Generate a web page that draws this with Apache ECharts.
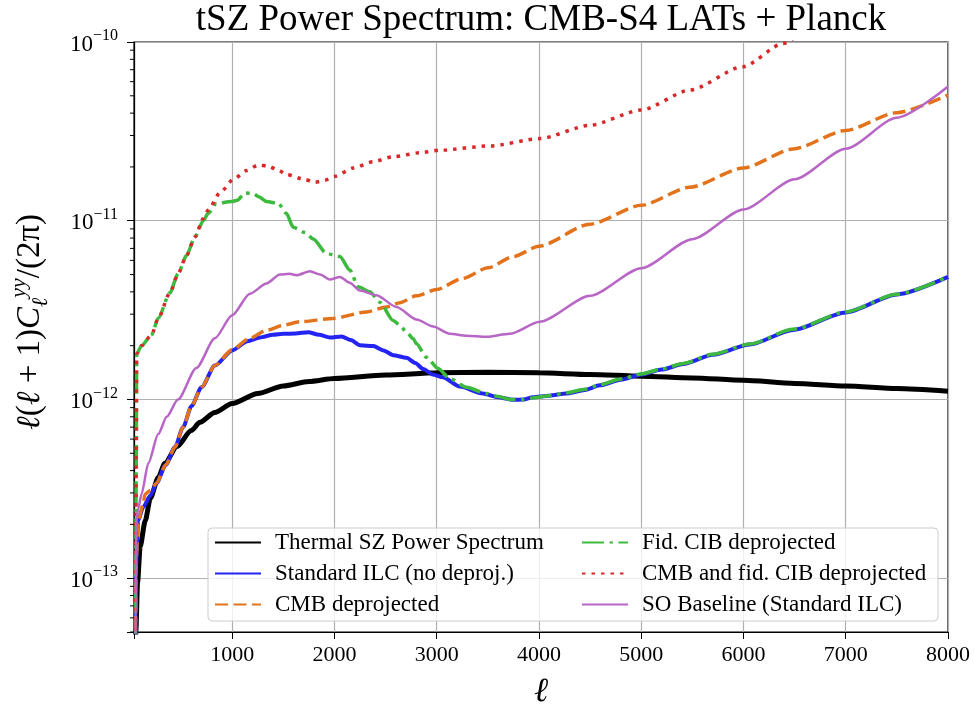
<!DOCTYPE html>
<html>
<head>
<meta charset="utf-8">
<script src="https://cdn.jsdelivr.net/npm/echarts@6/dist/echarts.min.js"></script>
<style>
html, body { margin: 0; padding: 0; background: #fff; }
#main { width: 974px; height: 705px; }
</style>
</head>
<body>
<div id="main"></div>
<script>
var SERIF = 'Liberation Serif';

// multipole values and spectra
var tszEll = [45, 58, 75, 100, 150, 200, 277, 342, 460, 600, 685, 830, 1000, 1250, 1500, 1750, 2000, 2500, 3000, 3500, 4000, 4500, 5000, 5500, 6000, 6500, 7000, 7500, 8000];
var tszVal = [2e-14, 5e-14, 9.5e-14, 1.5e-13, 2.1e-13, 2.8e-13, 3.66e-13, 4.4e-13, 5.45e-13, 6.7e-13, 7.45e-13, 8.45e-13, 9.5e-13, 1.08e-12, 1.19e-12, 1.26e-12, 1.31e-12, 1.37e-12, 1.41e-12, 1.42e-12, 1.41e-12, 1.38e-12, 1.35e-12, 1.32e-12, 1.28e-12, 1.23e-12, 1.19e-12, 1.15e-12, 1.11e-12];

var ilcEll = [50, 60, 81, 130, 200, 260, 350, 440, 520, 603, 700, 831, 1000, 1150, 1271, 1400, 1500, 1620, 1743, 1850, 1955, 2070, 2160, 2250, 2380, 2480, 2575, 2705, 2790, 2868, 2960, 3060, 3226, 3451, 3600, 3748, 3850, 3940, 4100, 4270, 4450, 4595, 4800, 5000, 5200, 5410, 5700, 6060, 6485, 7000, 7500, 8000];
var ilcVal = [2e-14, 1.2e-13, 2.1e-13, 2.5e-13, 2.9e-13, 3.4e-13, 4.3e-13, 5.4e-13, 7.0e-13, 9.2e-13, 1.17e-12, 1.55e-12, 1.88e-12, 2.12e-12, 2.22e-12, 2.3e-12, 2.33e-12, 2.34e-12, 2.38e-12, 2.3e-12, 2.22e-12, 2.25e-12, 2.15e-12, 2.01e-12, 1.99e-12, 1.88e-12, 1.77e-12, 1.71e-12, 1.6e-12, 1.48e-12, 1.38e-12, 1.33e-12, 1.18e-12, 1.08e-12, 1.03e-12, 9.95e-13, 1.0e-12, 1.03e-12, 1.05e-12, 1.08e-12, 1.13e-12, 1.2e-12, 1.29e-12, 1.38e-12, 1.47e-12, 1.58e-12, 1.78e-12, 2.03e-12, 2.45e-12, 3.07e-12, 3.87e-12, 4.85e-12];

var cmbEll = [50, 60, 81, 130, 147, 200, 260, 350, 440, 520, 603, 700, 831, 1000, 1173, 1336, 1500, 1662, 1988, 2314, 2510, 2640, 2800, 3000, 3250, 3500, 3750, 4000, 4497, 5000, 5475, 5996, 6485, 7000, 7495, 8000];
var cmbVal = [2e-14, 1.2e-13, 2.1e-13, 2.6e-13, 2.95e-13, 3.1e-13, 3.4e-13, 4.3e-13, 5.4e-13, 7.0e-13, 9.2e-13, 1.17e-12, 1.55e-12, 1.9e-12, 2.2e-12, 2.44e-12, 2.6e-12, 2.72e-12, 2.84e-12, 3.09e-12, 3.29e-12, 3.48e-12, 3.8e-12, 4.12e-12, 4.75e-12, 5.45e-12, 6.3e-12, 7.2e-12, 9.57e-12, 1.22e-11, 1.54e-11, 1.97e-11, 2.52e-11, 3.2e-11, 4.02e-11, 5.05e-11];

var cibEll = [55, 62, 66, 114, 212, 277, 391, 472, 554, 635, 717, 766, 847, 994, 1050, 1124, 1206, 1260, 1336, 1450, 1530, 1597, 1711, 1793, 1923, 2053, 2151, 2232, 2346, 2444, 2574, 2640, 2705, 2770, 2803, 2900, 3014, 3128, 3291, 3487, 3600, 3715, 3850, 3940, 4100, 4270, 4450, 4595, 4800, 5000, 5200, 5410, 5700, 6060, 6485, 7000, 7500, 8000];
var cibVal = [4e-14, 4.2e-13, 1.8e-12, 2.0e-12, 2.3e-12, 2.85e-12, 3.95e-12, 5.07e-12, 6.4e-12, 8.1e-12, 1.0e-11, 1.1e-11, 1.25e-11, 1.28e-11, 1.3e-11, 1.43e-11, 1.42e-11, 1.36e-11, 1.28e-11, 1.25e-11, 1.1e-11, 9.2e-12, 8.6e-12, 7.9e-12, 6.55e-12, 6.3e-12, 5.3e-12, 4.27e-12, 4.0e-12, 3.5e-12, 2.77e-12, 2.6e-12, 2.38e-12, 2.19e-12, 2.05e-12, 1.72e-12, 1.49e-12, 1.31e-12, 1.17e-12, 1.08e-12, 1.04e-12, 1.0e-12, 1.0e-12, 1.02e-12, 1.05e-12, 1.09e-12, 1.14e-12, 1.21e-12, 1.3e-12, 1.39e-12, 1.48e-12, 1.59e-12, 1.79e-12, 2.04e-12, 2.47e-12, 3.09e-12, 3.88e-12, 4.86e-12];

var bothEll = [55, 62, 66, 114, 212, 277, 391, 472, 554, 635, 717, 766, 880, 1010, 1141, 1255, 1352, 1450, 1532, 1711, 1809, 1900, 2004, 2183, 2379, 2574, 2835, 3030, 3519, 4008, 4497, 5000, 5475, 5996, 6387, 6600];
var bothVal = [4e-14, 4.2e-13, 1.8e-12, 2.0e-12, 2.3e-12, 2.85e-12, 3.95e-12, 5.07e-12, 6.4e-12, 8.1e-12, 1.03e-11, 1.15e-11, 1.43e-11, 1.7e-11, 1.91e-11, 2.05e-11, 2.02e-11, 1.92e-11, 1.81e-11, 1.7e-11, 1.64e-11, 1.68e-11, 1.77e-11, 1.97e-11, 2.14e-11, 2.28e-11, 2.4e-11, 2.48e-11, 2.62e-11, 2.88e-11, 3.42e-11, 4.16e-11, 5.38e-11, 7.28e-11, 9.8e-11, 1.18e-10];

var soEll = [50, 56, 62, 81, 114, 180, 277, 360, 470, 650, 831, 1000, 1173, 1336, 1466, 1560, 1630, 1760, 1860, 1955, 2053, 2150, 2248, 2411, 2607, 2803, 2965, 3128, 3291, 3487, 3715, 4008, 4500, 5000, 5500, 6000, 6500, 7000, 7500, 8000];
var soVal = [2e-14, 8e-14, 2.1e-13, 2.45e-13, 2.97e-13, 4.4e-13, 6.4e-13, 8.0e-13, 1.0e-12, 1.5e-12, 2.2e-12, 2.96e-12, 3.9e-12, 4.46e-12, 5.0e-12, 5.05e-12, 4.95e-12, 5.22e-12, 5.0e-12, 4.69e-12, 4.85e-12, 4.5e-12, 4.07e-12, 3.83e-12, 3.29e-12, 2.8e-12, 2.56e-12, 2.33e-12, 2.27e-12, 2.24e-12, 2.33e-12, 2.72e-12, 3.8e-12, 5.43e-12, 7.89e-12, 1.156e-11, 1.706e-11, 2.53e-11, 3.77e-11, 5.64e-11];

var names = ['Thermal SZ Power Spectrum', 'Standard ILC (no deproj.)', 'CMB deprojected',
             'Fid. CIB deprojected', 'CMB and fid. CIB deprojected', 'SO Baseline (Standard ILC)'];

var titleText = 'tSZ Power Spectrum: CMB-S4 LATs + Planck';

function pairs(xs, ys) {
    var out = [];
    for (var i = 0; i < xs.length; i++) out.push([xs[i], ys[i]]);
    return out;
}

function makeLine(name, xs, ys, color, width, type, z) {
    return {
        name: name,
        type: 'line',
        data: pairs(xs, ys),
        symbol: 'none',
        smooth: 0.25,
        smoothMonotone: 'x',
        z: z,
        itemStyle: { color: color },
        lineStyle: { color: color, width: width, type: type },
        animation: false
    };
}

function powLabel(v) {
    var e = Math.log10(v);
    var r = Math.round(e);
    if (Math.abs(e - r) > 1e-6) return '';
    return '{b|10}{s|' + (r < 0 ? '\u2212' : '') + Math.abs(r) + '}';
}

var legendText = { fontFamily: SERIF, fontSize: 23, lineHeight: 22, color: '#000', padding: [0, 0, 0, 9] };
var legendBase = {
    orient: 'vertical',
    top: 531,
    itemWidth: 46, itemHeight: 14, itemGap: 8,
    padding: 0,
    selectedMode: false,
    itemStyle: { opacity: 0, borderWidth: 0 },
    textStyle: legendText,
    z: 10
};

var myChart = echarts.init(document.getElementById('main'));

var option = {
    backgroundColor: '#fff',
    animation: false,
    textStyle: { fontFamily: SERIF },
    grid: {
        left: 134, right: 26, top: 42, bottom: 73,
        outerBoundsMode: 'none',
        containLabel: false,
        show: true, borderColor: '#000', borderWidth: 1.2, backgroundColor: 'transparent'
    },
    legend: [
        Object.assign({ data: names.slice(0, 3), left: 214 }, legendBase),
        Object.assign({ data: names.slice(3), left: 581 }, legendBase)
    ],
    xAxis: {
        type: 'value',
        min: 40, max: 8000,
        splitNumber: 8,
        name: '\u2113',
        nameLocation: 'middle',
        nameGap: 43,
        nameTextStyle: { fontFamily: SERIF, fontSize: 34, fontStyle: 'italic', color: '#000' },
        axisLine: { lineStyle: { color: '#000', width: 1.2 } },
        axisTick: { inside: false, length: 7, lineStyle: { color: '#000' } },
        axisLabel: {
            margin: 12, color: '#000', fontFamily: SERIF, fontSize: 22,
            formatter: function (v) { return v % 1000 === 0 ? String(v) : ''; }
        },
        splitLine: { show: true, lineStyle: { color: '#b0b0b0', width: 1.2 } }
    },
    yAxis: {
        type: 'log',
        logBase: 10,
        min: 5e-14, max: 1e-10,
        name: '{i|\u2113}{n|(}{i|\u2113}{n| + 1)}{i|C}{sb|\u2113}{sp|yy}{n|/(2\u03c0)}',
        nameLocation: 'middle',
        nameRotate: 90,
        nameGap: 82,
        nameTextStyle: {
            color: '#000',
            padding: [0, 0, 0, 30],
            rich: {
                n: { fontFamily: SERIF, fontSize: 33, lineHeight: 44, color: '#000' },
                i: { fontFamily: SERIF, fontSize: 33, lineHeight: 44, fontStyle: 'italic', color: '#000' },
                sp: { fontFamily: SERIF, fontSize: 22, lineHeight: 26, fontStyle: 'italic', verticalAlign: 'top', color: '#000' },
                sb: { fontFamily: SERIF, fontSize: 22, lineHeight: 22, fontStyle: 'italic', verticalAlign: 'bottom', color: '#000' }
            }
        },
        axisLine: { lineStyle: { color: '#000', width: 1.2 } },
        axisTick: { inside: false, length: 7, lineStyle: { color: '#000' } },
        axisLabel: {
            margin: 16, color: '#000',
            formatter: powLabel,
            rich: {
                b: { fontFamily: SERIF, fontSize: 23, lineHeight: 28, verticalAlign: 'bottom', color: '#000' },
                s: { fontFamily: SERIF, fontSize: 16, lineHeight: 18, verticalAlign: 'top', color: '#000' }
            }
        },
        splitLine: { show: true, lineStyle: { color: '#b0b0b0', width: 1.2 } }
    },
    series: [
        makeLine(names[0], tszEll, tszVal, '#000000', 5, 'solid', 2),
        makeLine(names[1], ilcEll, ilcVal, '#2424f2', 4, 'solid', 3),
        makeLine(names[2], cmbEll, cmbVal, '#e2731c', 3.5, [13, 5.5], 4),
        makeLine(names[3], cibEll, cibVal, '#3dba3d', 3.5, [22, 5.5, 3.5, 5.5], 5),
        makeLine(names[4], bothEll, bothVal, '#d8282a', 3.5, [3.5, 6], 6),
        makeLine(names[5], soEll, soVal, '#b866c6', 2.5, 'solid', 7)
    ]
};

myChart.setOption(option);

// title, legend frame and log minor ticks on the y axis
var els = [{
    type: 'text', id: 'title', z: 10,
    style: {
        text: titleText, x: 541, y: 20,
        align: 'center', verticalAlign: 'middle',
        fontFamily: SERIF, fontSize: 37, fill: '#000'
    }
}, {
    type: 'rect', id: 'legendFrame', z: 8,
    shape: { x: 208, y: 528, width: 730, height: 93, r: 4 },
    style: { fill: 'rgba(255,255,255,0.8)', stroke: '#cccccc', lineWidth: 1 }
}];
var axisX = 134;
for (var d = -14; d <= -11; d++) {
    for (var k = 2; k <= 9; k++) {
        var v = k * Math.pow(10, d);
        if (v < 5e-14 || v > 1e-10) continue;
        var py = myChart.convertToPixel({ yAxisIndex: 0 }, v);
        els.push({
            type: 'line', z: 9,
            shape: { x1: axisX - 4, y1: py, x2: axisX, y2: py },
            style: { stroke: '#000', lineWidth: 1 }
        });
    }
}
myChart.setOption({ graphic: { elements: els } });

window.addEventListener('resize', function () {
    myChart.resize();
});
</script>
</body>
</html>
